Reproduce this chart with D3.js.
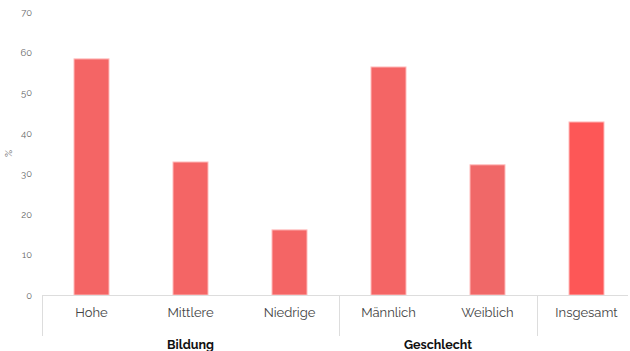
<!DOCTYPE html>
<html><head><meta charset="utf-8">
<script src="https://cdn.jsdelivr.net/npm/d3@7"></script>
<style>body{margin:0;background:#fff}svg{display:block}</style>
</head><body><div id="chart"></div>
<script>
const categories = ["Hohe","Mittlere","Niedrige","Männlich","Weiblich","Insgesamt"];
const values = [58.4, 32.9, 16.1, 56.4, 32.2, 42.8];
const colors = ["#f46565","#f46565","#f46565","#f46565","#f06868","#fd5757"];
const groups = [{name:"Bildung", from:0, to:2},{name:"Geschlecht", from:3, to:4},{name:"", from:5, to:5}];
const yTicks = [0,10,20,30,40,50,60,70];

const W=630,H=351;
const m={left:42,right:-6,top:12,bottom:56};
const svg=d3.select("#chart").append("svg").attr("width",W).attr("height",H);
const x=d3.scaleBand().domain(categories).range([m.left,W-m.right]).paddingInner(0).paddingOuter(0);
const y=d3.scaleLinear().domain([0,70]).range([H-m.bottom,m.top]);
const font="Raleway, Lato, 'Open Sans', sans-serif";

const ya=svg.append("g").attr("transform",`translate(${m.left},0)`)
  .call(d3.axisLeft(y).tickValues(yTicks).tickSize(0).tickPadding(10));
ya.select(".domain").remove();
ya.selectAll("text").attr("font-family",font).attr("font-size",9.5).attr("fill","#666");

svg.append("text").attr("transform",`translate(12,${y(35)}) rotate(-90)`)
  .attr("text-anchor","middle").attr("font-family",font).attr("font-size",10).attr("fill","#555").text("%");

const bw=35;
svg.selectAll("rect.bar").data(categories).join("rect").attr("class","bar")
  .attr("x",d=>x(d)+x.bandwidth()/2-bw/2).attr("width",bw)
  .attr("y",(d,i)=>y(values[i])).attr("height",(d,i)=>y(0)-y(values[i]))
  .attr("fill",(d,i)=>colors[i]).attr("stroke","#fbb").attr("stroke-width",1);

svg.append("line").attr("x1",m.left).attr("x2",628).attr("y1",y(0)+0.5).attr("y2",y(0)+0.5)
  .attr("stroke","#ddd").attr("stroke-width",1);

const xa=svg.append("g").attr("transform",`translate(0,${y(0)})`)
  .call(d3.axisBottom(x).tickSize(0).tickPadding(13));
xa.select(".domain").remove();
xa.selectAll("text").attr("font-family",font).attr("font-size",13).attr("fill","#444");

groups.forEach(g=>{
  const sx=Math.round(x(categories[g.from]))+0.5;
  svg.append("line").attr("x1",sx).attr("x2",sx).attr("y1",y(0)).attr("y2",336)
    .attr("stroke","#ddd").attr("stroke-width",1);
  if(g.name){
    const cx=(x(categories[g.from])+x(categories[g.to])+x.bandwidth())/2;
    svg.append("text").attr("x",cx).attr("y",349).attr("text-anchor","middle")
      .attr("font-family",font).attr("font-weight","bold").attr("font-size",12.5).attr("fill","#111").text(g.name);
  }
});
</script></body></html>
